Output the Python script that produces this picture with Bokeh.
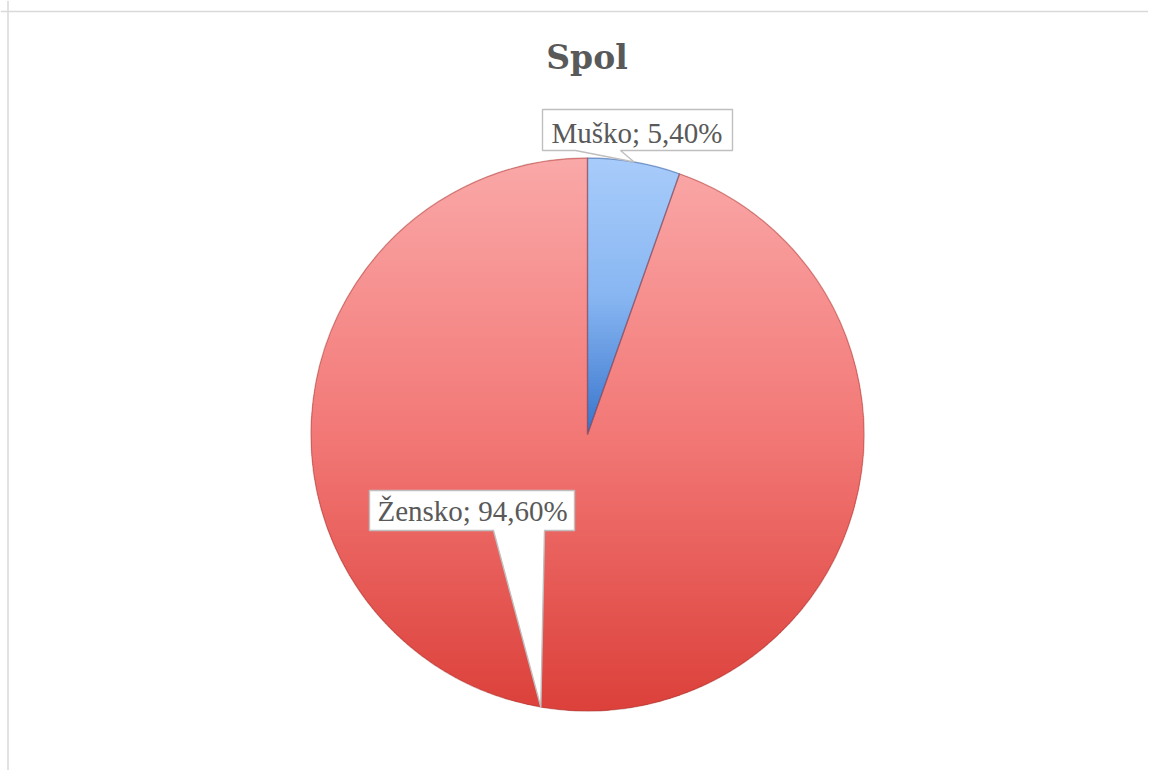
import numpy as np
from bokeh.plotting import figure
from bokeh.models import Range1d, Span
from bokeh.core.properties import value
from bokeh.embed import file_html
from bokeh.resources import INLINE

# ---- data ----
title_text = "Spol"
categories = ["Muško", "Žensko"]
values = [5.40, 94.60]

# ---- layout / style ----
W, H = 1148, 770
CX, CY, R = 587.0, -434.0, 276.5
grad_stops = {
    "Muško": [(0.0, (168, 204, 250)), (0.5, (136, 182, 242)), (1.0, (56, 116, 204))],
    "Žensko": [(0.0, (250, 168, 168)), (0.5, (242, 120, 118)), (1.0, (220, 64, 58))],
}
edge_colors = {"Muško": "#2F5597", "Žensko": "#A33A36"}
# callout boxes: (left, right, top, bottom, pointer_left, pointer_right)
callouts = {
    "Muško": (542, 732, -109, -150, 575, 620),
    "Žensko": (369, 574, -490, -530, 493, 544),
}
label_pos = {"Muško": (551, -132), "Žensko": (377, -510)}


def interp(stops, t):
    t = min(max(t, 0.0), 1.0)
    for (t0, c0), (t1, c1) in zip(stops[:-1], stops[1:]):
        if t <= t1:
            f = 0 if t1 == t0 else (t - t0) / (t1 - t0)
            c = [round(a + (b - a) * f) for a, b in zip(c0, c1)]
            return "#%02x%02x%02x" % tuple(c)
    return "#%02x%02x%02x" % tuple(stops[-1][1])


def clip_half(poly, yv, keep_above):
    out = []
    n = len(poly)
    for i in range(n):
        cur = poly[i]
        prev = poly[i - 1]
        cin = cur[1] >= yv if keep_above else cur[1] <= yv
        pin = prev[1] >= yv if keep_above else prev[1] <= yv
        if cin:
            if not pin:
                t = (yv - prev[1]) / (cur[1] - prev[1])
                out.append((prev[0] + t * (cur[0] - prev[0]), yv))
            out.append(cur)
        elif pin:
            t = (yv - prev[1]) / (cur[1] - prev[1])
            out.append((prev[0] + t * (cur[0] - prev[0]), yv))
    return out


total = float(sum(values))
fracs = [v / total for v in values]
cum = np.concatenate([[0.0], np.cumsum(fracs)])
start_clock = cum[:-1] * 360.0
end_clock = cum[1:] * 360.0

p = figure(width=W, height=H, x_range=Range1d(0, W), y_range=Range1d(-H, 0),
           output_backend="svg", toolbar_location=None, min_border=0,
           x_axis_location=None, y_axis_location=None)
p.grid.visible = False
p.outline_line_color = None
p.background_fill_color = "white"
p.border_fill_color = "white"

# base wedges
p.wedge(x=CX, y=CY, radius=R,
        start_angle=[np.radians(90 - e) for e in end_clock],
        end_angle=[np.radians(90 - s) for s in start_clock],
        direction="anticlock",
        fill_color=[interp(grad_stops[c], 0.5) for c in categories],
        line_color=None)

# vertical gradient per slice
xs_all, ys_all, cols_all = [], [], []
for cat, s, e in zip(categories, start_clock, end_clock):
    n = max(8, int((e - s) * 2))
    angs = np.radians(90 - np.linspace(s, e, n))
    poly = [(CX, CY)] + [(CX + R * np.cos(a), CY + R * np.sin(a)) for a in angs]
    ytop = max(pt[1] for pt in poly)
    ybot = min(pt[1] for pt in poly)
    step = 3.0
    yv = ytop
    while yv > ybot:
        hi = yv
        lo = yv - step - 1.0
        piece = clip_half(clip_half(poly, lo, True), hi, False)
        if len(piece) >= 3:
            t = (ytop - (yv - step / 2)) / (ytop - ybot)
            xs_all.append([q[0] for q in piece])
            ys_all.append([q[1] for q in piece])
            cols_all.append(interp(grad_stops[cat], t))
        yv -= step
p.patches(xs_all, ys_all, fill_color=cols_all, line_color=None)

# slice edges
p.wedge(x=CX, y=CY, radius=R,
        start_angle=[np.radians(90 - e) for e in end_clock],
        end_angle=[np.radians(90 - s) for s in start_clock],
        direction="anticlock", fill_color=None,
        line_color=[edge_colors[c] for c in categories], line_alpha=0.45, line_width=1.3)

# callouts
cxs, cys = [], []
for cat, s, e in zip(categories, start_clock, end_clock):
    m = np.radians((s + e) / 2)
    ax, ay = CX + R * np.sin(m), CY + R * np.cos(m)
    l, r, t, b, pl, pr = callouts[cat]
    pts = [(l, t), (r, t), (r, b), (pr, b), (ax, ay), (pl, b), (l, b)]
    cxs.append([q[0] for q in pts])
    cys.append([q[1] for q in pts])
p.patches(cxs, cys, fill_color="white", line_color="#BFBFBF", line_width=1.4)

labels = [f"{c}; {v:.2f}%".replace(".", ",") for c, v in zip(categories, values)]
p.text(x=[label_pos[c][0] for c in categories], y=[label_pos[c][1] for c in categories],
       text=labels, text_font=value("Liberation Serif"), text_font_size="29px",
       text_color="#595959", text_align="left", text_baseline="alphabetic")

p.text(x=[586.5], y=[-57], text=[title_text], text_font=value("DejaVu Serif"),
       text_font_size="33px", text_font_style="bold", text_color="#595959",
       text_align="center", text_baseline="alphabetic")

# chart-area border (left and top)
p.add_layout(Span(location=7.5, dimension="height", line_color="#D9D9D9", line_width=1.5))
p.add_layout(Span(location=-11, dimension="width", line_color="#D9D9D9", line_width=1.5))

open("out.html", "w").write(file_html(p, INLINE))
